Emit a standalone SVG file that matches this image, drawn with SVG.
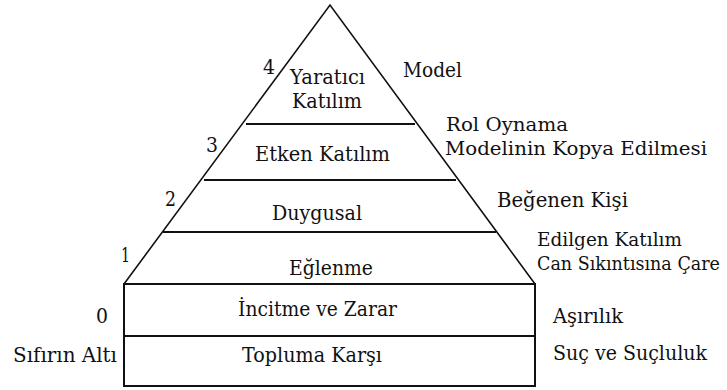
<svg xmlns="http://www.w3.org/2000/svg" width="727" height="390" viewBox="0 0 727 390">
<style>
.t{font-family:"DejaVu Serif","Liberation Serif","Noto Serif","Times New Roman",Times,serif;font-size:20px;fill:#111;}
.s{font-size:19px;}
.ln{stroke:#111;stroke-width:2;fill:none;}
.side{stroke:#111;stroke-width:1.6;fill:none;stroke-linejoin:miter;}
</style>
<rect width="727" height="390" fill="#fff"/>
<g id="connectors">
<polyline class="side" points="124,284 330,5 535,284"/>
<line class="ln" x1="246" y1="124" x2="415" y2="124"/>
<line class="ln" x1="204" y1="180" x2="456" y2="180"/>
<line class="ln" x1="163" y1="232" x2="496" y2="232"/>
<rect class="ln" x="124" y="284" width="411" height="102"/>
<line class="ln" x1="124" y1="336" x2="535" y2="336"/>
</g>
<g id="level-4">
<text class="t" x="263" y="74" textLength="12" lengthAdjust="spacingAndGlyphs">4</text>
<text class="t" x="290" y="84" textLength="75" lengthAdjust="spacingAndGlyphs">Yaratıcı</text>
<text class="t" x="292" y="108" textLength="70" lengthAdjust="spacingAndGlyphs">Katılım</text>
<text class="t" x="403" y="77" textLength="59" lengthAdjust="spacingAndGlyphs">Model</text>
</g>
<g id="level-3">
<text class="t" x="206" y="152" textLength="12" lengthAdjust="spacingAndGlyphs">3</text>
<text class="t" x="255" y="161" textLength="135" lengthAdjust="spacingAndGlyphs">Etken Katılım</text>
<text class="t s" x="446" y="131" textLength="122" lengthAdjust="spacingAndGlyphs">Rol Oynama</text>
<text class="t s" x="445" y="155" textLength="262" lengthAdjust="spacingAndGlyphs">Modelinin Kopya Edilmesi</text>
</g>
<g id="level-2">
<text class="t" x="165" y="206" textLength="11" lengthAdjust="spacingAndGlyphs">2</text>
<text class="t" x="272" y="220" textLength="90" lengthAdjust="spacingAndGlyphs">Duygusal</text>
<text class="t" x="497" y="207" textLength="131" lengthAdjust="spacingAndGlyphs">Beğenen Kişi</text>
</g>
<g id="level-1">
<text class="t" x="121" y="262" textLength="9" lengthAdjust="spacingAndGlyphs">1</text>
<text class="t" x="289" y="275" textLength="84" lengthAdjust="spacingAndGlyphs">Eğlenme</text>
<text class="t s" x="537" y="246" textLength="145" lengthAdjust="spacingAndGlyphs">Edilgen Katılım</text>
<text class="t s" x="537" y="270" textLength="183" lengthAdjust="spacingAndGlyphs">Can Sıkıntısına Çare</text>
</g>
<g id="level-0">
<text class="t" x="96" y="323" textLength="12" lengthAdjust="spacingAndGlyphs">0</text>
<text class="t" x="238" y="316" textLength="159" lengthAdjust="spacingAndGlyphs">İncitme ve Zarar</text>
<text class="t" x="553" y="323" textLength="70" lengthAdjust="spacingAndGlyphs">Aşırılık</text>
</g>
<g id="level-below-zero">
<text class="t" x="13" y="362" textLength="104" lengthAdjust="spacingAndGlyphs">Sıfırın Altı</text>
<text class="t" x="242" y="362" textLength="140" lengthAdjust="spacingAndGlyphs">Topluma Karşı</text>
<text class="t" x="553" y="360" textLength="154" lengthAdjust="spacingAndGlyphs">Suç ve Suçluluk</text>
</g>
</svg>
